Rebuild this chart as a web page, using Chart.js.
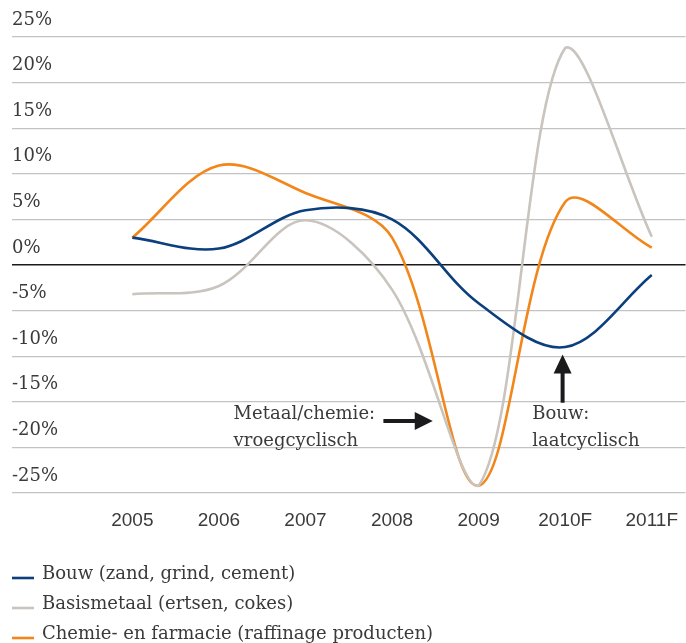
<!DOCTYPE html>
<html>
<head>
<meta charset="utf-8">
<script src="https://cdn.jsdelivr.net/npm/chart.js@4"></script>
<style>
    body { margin: 0; background: #fff; }
    #wrap { width: 686px; height: 643px; }
</style>
</head>
<body>
<div id="wrap"><canvas id="grafiek"></canvas></div>
<script>
var jaren = [2005, 2006, 2007, 2008, 2009, 2010, 2011];
var jaarLabels = ["2005", "2006", "2007", "2008", "2009", "2010F", "2011F"];

var bouw = [3.0, 1.8, 6.0, 5.0, -4.2, -9.0, -1.1];
var basismetaal = [-3.2, -2.3, 4.9, -2.7, -24.2, 23.8, 3.1];
var chemie = [3.0, 10.9, 7.9, 3.0, -24.2, 6.9, 1.9];

var reeksNamen = ["Bouw (zand, grind, cement)", "Basismetaal (ertsen, cokes)", "Chemie- en farmacie (raffinage producten)"];
var kleuren = ["#0b3f7e", "#c9c4bd", "#f2861b"];

var serif = "'DejaVu Serif', serif";
var tekstKleur = "#3a3a3a";

function punten(waarden) {
    var p = [];
    for (var i = 0; i < jaren.length; i++) {
        p.push({x: jaren[i], y: waarden[i]});
    }
    return p;
}

function maakDataset(naam, waarden, kleur) {
    return {
        label: naam,
        data: punten(waarden),
        borderColor: kleur,
        backgroundColor: kleur,
        borderWidth: 2.6,
        pointRadius: 0,
        tension: 0.34,
        fill: false
    };
}

// pijl tekenen in data-eenheden
function pijl(ctx, sx, x0, x1, y, sy, richting) {
    ctx.save();
    ctx.fillStyle = "#1b1b1e";
    ctx.strokeStyle = "#1b1b1e";
    ctx.lineWidth = 4;
    ctx.beginPath();
    if (richting === "rechts") {
        var py = sy.getPixelForValue(y);
        var a = sx.getPixelForValue(x0), b = sx.getPixelForValue(x1);
        ctx.moveTo(a, py);
        ctx.lineTo(b - 17, py);
        ctx.stroke();
        ctx.beginPath();
        ctx.moveTo(b, py);
        ctx.lineTo(b - 18, py - 9);
        ctx.lineTo(b - 18, py + 9);
    } else {
        var px = sx.getPixelForValue(y);
        var c = sy.getPixelForValue(x0), d = sy.getPixelForValue(x1);
        ctx.moveTo(px, c);
        ctx.lineTo(px, d + 17);
        ctx.stroke();
        ctx.beginPath();
        ctx.moveTo(px, d);
        ctx.lineTo(px - 9, d + 19);
        ctx.lineTo(px + 9, d + 19);
    }
    ctx.closePath();
    ctx.fill();
    ctx.restore();
}

var annotaties = {
    id: "annotaties",
    afterDatasetsDraw: function (chart) {
        var ctx = chart.ctx;
        var sx = chart.scales.x, sy = chart.scales.y;
        ctx.save();
        ctx.font = "18px " + serif;
        ctx.fillStyle = tekstKleur;
        ctx.textAlign = "left";
        ctx.textBaseline = "middle";
        ctx.fillText("Metaal/chemie:", sx.getPixelForValue(2006.17), sy.getPixelForValue(-16.4));
        ctx.fillText("vroegcyclisch", sx.getPixelForValue(2006.17), sy.getPixelForValue(-19.3));
        ctx.fillText("Bouw:", sx.getPixelForValue(2009.62), sy.getPixelForValue(-16.4));
        ctx.fillText("laatcyclisch", sx.getPixelForValue(2009.62), sy.getPixelForValue(-19.3));
        ctx.restore();

        pijl(ctx, sx, 2007.9, 2008.47, -17.1, sy, "rechts");
        pijl(ctx, sx, -15.1, -9.8, 2009.97, sy, "omhoog");
    }
};

var legenda = {
    id: "legenda",
    afterDraw: function (chart) {
        var ctx = chart.ctx;
        var basis = chart.chartArea.bottom;
        ctx.save();
        ctx.font = "18px " + serif;
        ctx.textAlign = "left";
        ctx.textBaseline = "middle";
        for (var i = 0; i < reeksNamen.length; i++) {
            var y = basis + 81 + i * 30;
            ctx.strokeStyle = kleuren[i];
            ctx.lineWidth = 2.6;
            ctx.beginPath();
            ctx.moveTo(12, y + 4);
            ctx.lineTo(34, y + 4);
            ctx.stroke();
            ctx.fillStyle = tekstKleur;
            ctx.fillText(reeksNamen[i], 42, y);
        }
        ctx.restore();
    }
};

function makeChart() {
    var canvas = document.getElementById("grafiek");

    var data = {
        datasets: [
            maakDataset(reeksNamen[0], bouw, kleuren[0]),
            maakDataset(reeksNamen[1], basismetaal, kleuren[1]),
            maakDataset(reeksNamen[2], chemie, kleuren[2])
        ]
    };

    var opties = {
        responsive: true,
        maintainAspectRatio: false,
        animation: false,
        layout: {padding: {left: 12, right: 0, top: 37, bottom: 112}},
        plugins: {
            legend: {display: false},
            tooltip: {enabled: false}
        },
        scales: {
            x: {
                type: "linear",
                min: 2003.61,
                max: 2011.39,
                afterBuildTicks: function (s) {
                    s.ticks = jaren.map(function (j) { return {value: j}; });
                },
                afterFit: function (s) { s.height = 38; },
                ticks: {
                    padding: 8,
                    color: tekstKleur,
                    font: {family: "'Liberation Sans', sans-serif", size: 19},
                    callback: function (v) {
                        var i = jaren.indexOf(v);
                        return i >= 0 ? jaarLabels[i] : "";
                    }
                },
                grid: {display: false},
                border: {display: false}
            },
            y: {
                min: -25,
                max: 25,
                afterFit: function (s) { s.width = 0; },
                ticks: {
                    stepSize: 5,
                    mirror: true,
                    padding: 0,
                    labelOffset: -17,
                    color: tekstKleur,
                    font: {family: serif, size: 18},
                    callback: function (v) { return v + "%"; }
                },
                grid: {
                    drawTicks: false,
                    color: function (c) { return c.tick && c.tick.value === 0 ? "#1a1a1a" : "#c3c3c3"; },
                    lineWidth: function (c) { return c.tick && c.tick.value === 0 ? 1.6 : 1.2; }
                },
                border: {display: false}
            }
        }
    };

    new Chart(canvas, {
        type: "line",
        data: data,
        options: opties,
        plugins: [annotaties, legenda]
    });
}

document.addEventListener("DOMContentLoaded", makeChart);
</script>
</body>
</html>
